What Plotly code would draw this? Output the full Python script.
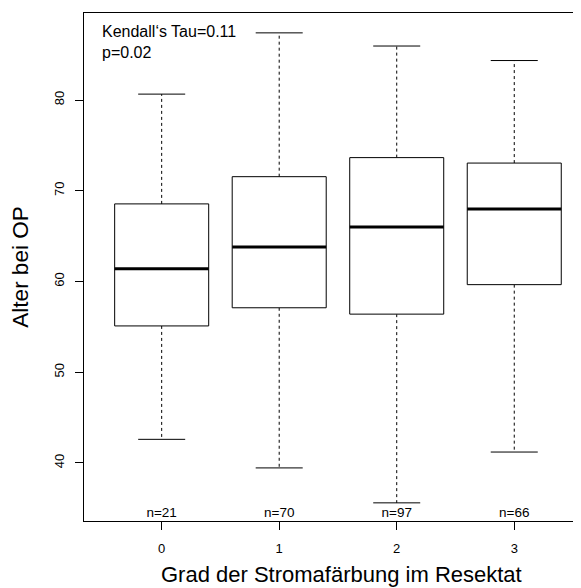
import plotly.graph_objects as go

categories = ["0", "1", "2", "3"]
lower_whisker = [42.6, 39.45, 35.6, 41.2]
q1 = [55.1, 57.1, 56.4, 59.65]
median = [61.4, 63.8, 66.0, 68.0]
q3 = [68.55, 71.55, 73.65, 73.05]
upper_whisker = [80.65, 87.4, 85.95, 84.35]
counts = [21, 70, 97, 66]
y_ticks = [40, 50, 60, 70, 80]
stat_text = "Kendall‘s Tau=0.11<br>p=0.02"
x_title = "Grad der Stromafärbung im Resektat"
y_title = "Alter bei OP"

FONT = "Liberation Sans, Arial, Helvetica, sans-serif"
BW = 0.4   # half box width
CW = 0.2   # half cap width

xs = list(range(len(categories)))

box_x, box_y = [], []
med_x, med_y = [], []
wh_x, wh_y = [], []
cap_x, cap_y = [], []
for i in xs:
    box_x += [i - BW, i + BW, i + BW, i - BW, i - BW, None]
    box_y += [q1[i], q1[i], q3[i], q3[i], q1[i], None]
    med_x += [i - BW, i + BW, None]
    med_y += [median[i], median[i], None]
    wh_x += [i, i, None, i, i, None]
    wh_y += [q3[i], upper_whisker[i], None, q1[i], lower_whisker[i], None]
    cap_x += [i - CW, i + CW, None, i - CW, i + CW, None]
    cap_y += [upper_whisker[i], upper_whisker[i], None, lower_whisker[i], lower_whisker[i], None]

fig = go.Figure()
fig.add_trace(go.Scatter(x=wh_x, y=wh_y, mode="lines",
                         line=dict(color="black", width=1, dash="3px,3px"),
                         hoverinfo="skip", showlegend=False))
fig.add_trace(go.Scatter(x=cap_x, y=cap_y, mode="lines",
                         line=dict(color="black", width=1),
                         hoverinfo="skip", showlegend=False))
fig.add_trace(go.Scatter(x=box_x, y=box_y, mode="lines", fill="toself",
                         fillcolor="white",
                         line=dict(color="black", width=1),
                         hoverinfo="skip", showlegend=False))
fig.add_trace(go.Scatter(x=med_x, y=med_y, mode="lines",
                         line=dict(color="black", width=3),
                         hoverinfo="skip", showlegend=False))
fig.add_trace(go.Scatter(x=xs, y=[34.38] * len(xs), mode="text",
                         text=[f"n={c}" for c in counts],
                         textfont=dict(family=FONT, size=13.5, color="black"),
                         hoverinfo="skip", showlegend=False))

fig.add_annotation(x=0, y=1, xref="paper", yref="paper",
                   xanchor="left", yanchor="top", xshift=16, yshift=-8,
                   text=stat_text, showarrow=False, align="left",
                   font=dict(family=FONT, size=16, color="black"))

fig.add_annotation(x=0.519, y=0, xref="paper", yref="paper",
                   xanchor="center", yanchor="middle", yshift=-53,
                   text=x_title, showarrow=False,
                   font=dict(family=FONT, size=22, color="black"))

fig.update_layout(
    width=573, height=580,
    margin=dict(l=76, r=0, t=5, b=67),
    paper_bgcolor="white", plot_bgcolor="white",
    font=dict(family=FONT, color="black"),
    xaxis=dict(range=[-0.661, 3.568], tickmode="array", tickvals=xs,
               ticktext=categories, ticks="outside", ticklen=8,
               tickcolor="black", showline=True, linecolor="black",
               linewidth=1, mirror=True, showgrid=False, zeroline=False,
               tickfont=dict(size=13), ticklabelstandoff=7),
    yaxis=dict(range=[33.6, 89.59], tickmode="array", tickvals=y_ticks,
               ticks="outside", ticklen=8, tickcolor="black",
               showline=True, linecolor="black", linewidth=1,
               showgrid=False, zeroline=False, tickangle=-90,
               tickfont=dict(size=13), ticklabelstandoff=6,
               title=dict(text=y_title, font=dict(size=22.5),
                          standoff=21)),
)

fig.write_html("out.html")
